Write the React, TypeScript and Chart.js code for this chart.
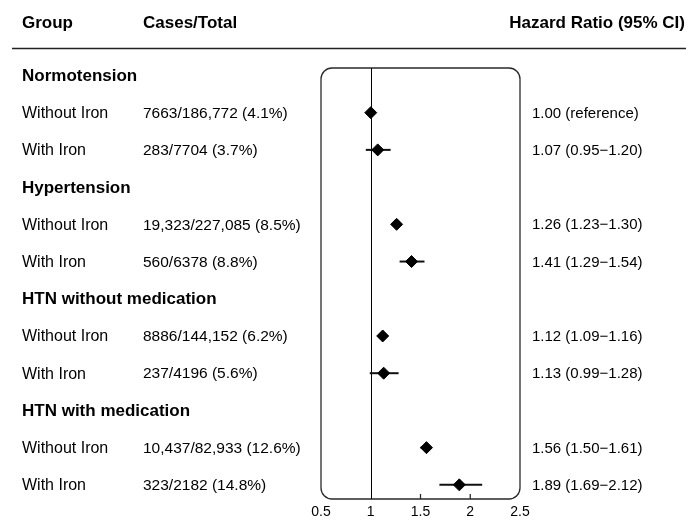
import React, { useEffect, useRef } from "react";
import { Chart, registerables } from "chart.js";

Chart.register(...registerables);

// ---- data ----
const groupNames = ["Normotension", "Hypertension", "HTN without medication", "HTN with medication"];
const groupRows = [0, 3, 6, 9];
const rowLabels = ["Without Iron", "With Iron", "Without Iron", "With Iron", "Without Iron", "With Iron", "Without Iron", "With Iron"];
const rowPos = [1, 2, 4, 5, 7, 8, 10, 11];
const casesText = [
  "7663/186,772 (4.1%)",
  "283/7704 (3.7%)",
  "19,323/227,085 (8.5%)",
  "560/6378 (8.8%)",
  "8886/144,152 (6.2%)",
  "237/4196 (5.6%)",
  "10,437/82,933 (12.6%)",
  "323/2182 (14.8%)",
];
const hr = [1.0, 1.07, 1.26, 1.41, 1.12, 1.13, 1.56, 1.89];
const lo: (number | null)[] = [null, 0.95, 1.23, 1.29, 1.09, 0.99, 1.5, 1.69];
const hi: (number | null)[] = [null, 1.2, 1.3, 1.54, 1.16, 1.28, 1.61, 2.12];
const hrText = [
  "1.00 (reference)",
  "1.07 (0.95\u22121.20)",
  "1.26 (1.23\u22121.30)",
  "1.41 (1.29\u22121.54)",
  "1.12 (1.09\u22121.16)",
  "1.13 (0.99\u22121.28)",
  "1.56 (1.50\u22121.61)",
  "1.89 (1.69\u22122.12)",
];
const xTicks = [0.5, 1, 1.5, 2, 2.5];
const xTickLabels = ["0.5", "1", "1.5", "2", "2.5"];
const headers = ["Group", "Cases/Total", "Hazard Ratio (95% CI)"];
const refValue = 1;

const FONT = '"Liberation Sans", Arial, Helvetica, sans-serif';

const forestPlugin = {
  id: "forest",
  beforeDatasetsDraw(chart: any) {
    const { ctx, chartArea, scales } = chart;
    const x = scales.x;
    const y = scales.y;
    const { left, right, top, bottom } = chartArea;
    ctx.save();
    // rounded box
    const r = 11;
    ctx.strokeStyle = "#2a2a2a";
    ctx.lineWidth = 1.3;
    ctx.beginPath();
    ctx.moveTo(left + r, top);
    ctx.lineTo(right - r, top);
    ctx.arcTo(right, top, right, top + r, r);
    ctx.lineTo(right, bottom - r);
    ctx.arcTo(right, bottom, right - r, bottom, r);
    ctx.lineTo(left + r, bottom);
    ctx.arcTo(left, bottom, left, bottom - r, r);
    ctx.lineTo(left, top + r);
    ctx.arcTo(left, top, left + r, top, r);
    ctx.closePath();
    ctx.stroke();
    // reference line
    const rx = Math.round(x.getPixelForValue(refValue)) + 0.5;
    ctx.strokeStyle = "#000";
    ctx.lineWidth = 1;
    ctx.beginPath();
    ctx.moveTo(rx, top);
    ctx.lineTo(rx, bottom);
    ctx.stroke();
    // tick marks
    ctx.strokeStyle = "#2a2a2a";
    ctx.lineWidth = 1.3;
    xTicks.forEach((t) => {
      const px = x.getPixelForValue(t);
      if (px > left + r && px < right - r && t !== refValue) {
        ctx.beginPath();
        ctx.moveTo(px, bottom);
        ctx.lineTo(px, bottom - 5);
        ctx.stroke();
      }
    });
    // tick labels
    ctx.fillStyle = "#000";
    ctx.font = `14px ${FONT}`;
    ctx.textAlign = "center";
    ctx.textBaseline = "middle";
    xTicks.forEach((t, i) => {
      ctx.fillText(xTickLabels[i], x.getPixelForValue(t), bottom + 13);
    });
    // CI lines
    ctx.strokeStyle = "#111";
    ctx.lineWidth = 2;
    hr.forEach((_, i) => {
      const l = lo[i];
      const h = hi[i];
      if (l == null || h == null) return;
      const py = y.getPixelForValue(rowPos[i]);
      ctx.beginPath();
      ctx.moveTo(x.getPixelForValue(l), py);
      ctx.lineTo(x.getPixelForValue(h), py);
      ctx.stroke();
    });
    // header
    ctx.fillStyle = "#000";
    ctx.font = `bold 17px ${FONT}`;
    ctx.textBaseline = "middle";
    ctx.textAlign = "left";
    ctx.fillText(headers[0], 22, 23);
    ctx.fillText(headers[1], 143, 23);
    ctx.textAlign = "right";
    ctx.fillText(headers[2], 685, 23);
    ctx.strokeStyle = "#222";
    ctx.lineWidth = 1.6;
    ctx.beginPath();
    ctx.moveTo(12, 48.5);
    ctx.lineTo(686, 48.5);
    ctx.stroke();
    // group headers
    ctx.textAlign = "left";
    groupNames.forEach((g, i) => {
      ctx.font = `bold 17px ${FONT}`;
      ctx.fillText(g, 22, y.getPixelForValue(groupRows[i]) + 1);
    });
    // rows
    rowLabels.forEach((lab, i) => {
      const py = y.getPixelForValue(rowPos[i]) + 1;
      ctx.font = `16px ${FONT}`;
      ctx.textAlign = "left";
      ctx.fillText(lab, 22, py);
      ctx.font = `15.5px ${FONT}`;
      ctx.fillText(casesText[i], 143, py);
      ctx.font = `15px ${FONT}`;
      ctx.fillText(hrText[i], 532, py);
    });
    ctx.restore();
  },
};

export default function App() {
  const canvasRef = useRef<HTMLCanvasElement | null>(null);
  useEffect(() => {
    if (!canvasRef.current) return;
    const chart = new Chart(canvasRef.current, {
      type: "scatter",
      data: {
        datasets: [
          {
            data: hr.map((v, i) => ({ x: v, y: rowPos[i] })),
            pointStyle: "rectRot",
            pointRadius: 6,
            backgroundColor: "#000",
            borderColor: "#000",
            borderWidth: 1,
          },
        ],
      },
      options: {
        animation: false,
        responsive: false,
        events: [],
        layout: { padding: { left: 321, right: 166, top: 68, bottom: 21 } },
        plugins: { legend: { display: false }, tooltip: { enabled: false } },
        scales: {
          x: { type: "linear", min: 0.5, max: 2.5, display: false },
          y: { type: "linear", min: -0.2, max: 11.38, reverse: true, display: false },
        },
      },
      plugins: [forestPlugin],
    });
    return () => chart.destroy();
  }, []);
  return (
    <div style={{ position: "absolute", left: 0, top: 0, width: 686, height: 520, background: "#fff" }}>
      <canvas ref={canvasRef} width={686} height={520} />
    </div>
  );
}
